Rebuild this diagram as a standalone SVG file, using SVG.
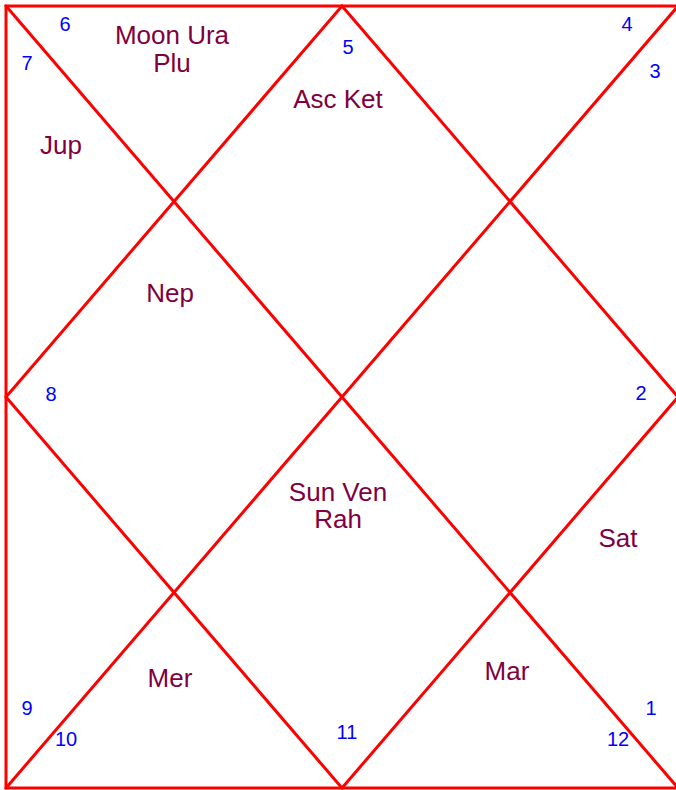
<svg xmlns="http://www.w3.org/2000/svg" width="676" height="790" viewBox="0 0 676 790">
<style>
.ln{stroke:#ff0000;stroke-width:3;fill:none;stroke-linecap:round}
.p{font-family:"Liberation Sans",Arial,sans-serif;font-size:26px;fill:#800040;text-anchor:middle}
.n{font-family:"Liberation Sans",Arial,sans-serif;font-size:20px;fill:#0000ff;text-anchor:middle}
</style>
<rect width="676" height="790" fill="#ffffff"/>
<g id="connectors">
<rect class="ln" x="6" y="6" width="672" height="782"/>
<line class="ln" x1="6" y1="6" x2="678" y2="788"/>
<line class="ln" x1="678" y1="6" x2="6" y2="788"/>
<polygon class="ln" points="342,6 678,397 342,788 6,397"/>
</g>
<g id="house1"><text class="n" x="651" y="715">1</text></g>
<g id="house2"><text class="n" x="641" y="400">2</text><text class="p" x="618" y="547">Sat</text></g>
<g id="house3"><text class="n" x="655" y="78">3</text></g>
<g id="house4"><text class="n" x="627" y="31">4</text></g>
<g id="house5"><text class="n" x="348" y="54">5</text><text class="p" x="338" y="108">Asc Ket</text></g>
<g id="house6"><text class="n" x="65" y="31">6</text><text class="p" x="172" y="44">Moon Ura</text><text class="p" x="172" y="72">Plu</text></g>
<g id="house7"><text class="n" x="27" y="70">7</text><text class="p" x="61" y="154">Jup</text></g>
<g id="house8"><text class="n" x="51" y="401">8</text><text class="p" x="170" y="302">Nep</text></g>
<g id="house9"><text class="n" x="27" y="715">9</text></g>
<g id="house10"><text class="n" x="66" y="746">10</text><text class="p" x="170" y="687">Mer</text></g>
<g id="house11"><text class="n" x="347" y="739">11</text><text class="p" x="338" y="501">Sun Ven</text><text class="p" x="338" y="528">Rah</text></g>
<g id="house12"><text class="n" x="618" y="746">12</text><text class="p" x="507" y="680">Mar</text></g>
</svg>
